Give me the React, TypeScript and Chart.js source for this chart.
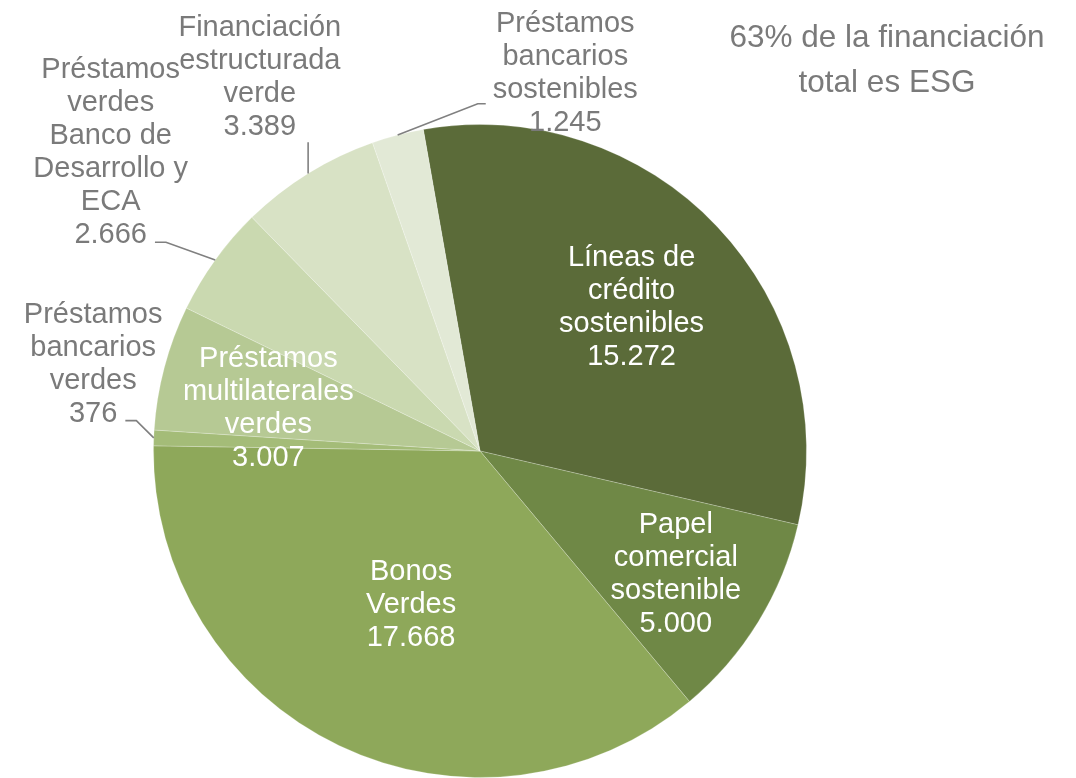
import React, { useEffect, useRef } from "react";
import { Chart, registerables } from "chart.js";

Chart.register(...registerables);

const categories: string[][] = [
  ["Líneas de", "crédito", "sostenibles"],
  ["Papel", "comercial", "sostenible"],
  ["Bonos", "Verdes"],
  ["Préstamos", "bancarios", "verdes"],
  ["Préstamos", "multilaterales", "verdes"],
  ["Préstamos", "verdes", "Banco de", "Desarrollo y", "ECA"],
  ["Financiación", "estructurada", "verde"],
  ["Préstamos", "bancarios", "sostenibles"],
];

const values: number[] = [15272, 5000, 17668, 376, 3007, 2666, 3389, 1245];

const colors: string[] = [
  "#5b6b39",
  "#6f8846",
  "#8ea85a",
  "#a4bc78",
  "#b6c994",
  "#cad9b0",
  "#d8e2c5",
  "#e2e9d6",
];

const titleLines: string[] = ["63% de la financiación", "total es ESG"];

// label placement: radius factor (of outer radius), angle offset (deg, clockwise), inside/outside, leader style
type Placement = {
  r: number;
  dAng: number;
  inside: boolean;
  leader?: "right" | "left" | "bottom";
  line?: number;
  dy?: number;
};
const placements: Placement[] = [
  { r: 0.645, dAng: -0.5, inside: true },
  { r: 0.704, dAng: 0, inside: true },
  { r: 0.507, dAng: -0.9, inside: true },
  { r: 1.215, dAng: 10.5, inside: false, leader: "right", line: 3, dy: 7 },
  { r: 0.663, dAng: -2.7, inside: true },
  { r: 1.456, dAng: 3.2, inside: false, leader: "right", line: 5, dy: 7 },
  { r: 1.33, dAng: 1.3, inside: false, leader: "bottom" },
  { r: 1.189, dAng: 27.3, inside: false, leader: "left", line: 2, dy: 14 },
];

const FONT = '"Liberation Sans", Arial, sans-serif';
const LABEL_SIZE = 29;
const LINE_H = 33;
const TEXT_SHIFT = 3;
const GRAY = "#7a7a7a";

function fmt(v: number): string {
  return v.toString().replace(/\B(?=(\d{3})+(?!\d))/g, ".");
}

const labelPlugin = {
  id: "pieLabels",
  afterDraw(chart: any) {
    const ctx: CanvasRenderingContext2D = chart.ctx;
    const meta = chart.getDatasetMeta(0);
    ctx.save();
    ctx.font = `${LABEL_SIZE}px ${FONT}`;
    ctx.textAlign = "center";
    ctx.textBaseline = "middle";
    meta.data.forEach((arc: any, i: number) => {
      const p = arc.getProps(["x", "y", "startAngle", "endAngle", "outerRadius"], true);
      const R = p.outerRadius;
      const mid = (p.startAngle + p.endAngle) / 2;
      const pl = placements[i];
      const ang = mid + (pl.dAng * Math.PI) / 180;
      const cx = p.x + Math.cos(ang) * R * pl.r;
      const cy = p.y + Math.sin(ang) * R * pl.r + (pl.inside ? TEXT_SHIFT : 1);
      const lines = [...categories[i], fmt(values[i])];
      const n = lines.length;
      const lineY = (k: number) => cy + (k - (n - 1) / 2) * LINE_H;
      ctx.fillStyle = pl.inside ? "#ffffff" : GRAY;
      lines.forEach((t, k) => ctx.fillText(t, cx, lineY(k)));
      if (!pl.inside && pl.leader) {
        const px = p.x + Math.cos(mid) * R;
        const py = p.y + Math.sin(mid) * R;
        ctx.strokeStyle = "#808080";
        ctx.lineWidth = 1.6;
        ctx.beginPath();
        if (pl.leader === "right" || pl.leader === "left") {
          const k = pl.line ?? n - 1;
          const w = ctx.measureText(lines[k]).width;
          const y = lineY(k) + (pl.dy ?? 0);
          if (pl.leader === "right") {
            const x0 = cx + w / 2 + 8;
            ctx.moveTo(x0, y);
            ctx.lineTo(x0 + 11, y);
          } else {
            const x0 = cx - w / 2 - 7;
            ctx.moveTo(x0, y);
            ctx.lineTo(x0 - 8, y);
          }
          ctx.lineTo(px, py);
        } else {
          let maxW = 0;
          lines.forEach((t) => (maxW = Math.max(maxW, ctx.measureText(t).width)));
          const x0 = Math.min(Math.max(px, cx - maxW / 2), cx + maxW / 2);
          const y0 = lineY(n - 1) + 15;
          ctx.moveTo(x0, y0);
          ctx.lineTo(px, py);
        }
        ctx.stroke();
      }
    });
    // side note
    ctx.font = `31.5px ${FONT}`;
    ctx.fillStyle = GRAY;
    ctx.textAlign = "center";
    ctx.textBaseline = "alphabetic";
    titleLines.forEach((t, k) => ctx.fillText(t, 887, 47 + k * 45));
    ctx.restore();
  },
};

export default function App() {
  const ref = useRef<HTMLCanvasElement | null>(null);
  useEffect(() => {
    if (!ref.current) return;
    const chart = new Chart(ref.current, {
      type: "pie",
      data: {
        labels: categories.map((c) => c.join(" ")),
        datasets: [
          {
            data: values,
            backgroundColor: colors,
            borderColor: "rgba(255,255,255,0.22)",
            borderWidth: 1,
          },
        ],
      },
      options: {
        responsive: false,
        animation: false,
        rotation: -10,
        layout: { padding: { top: 124, left: 153, right: 269, bottom: 0 } },
        plugins: {
          legend: { display: false },
          tooltip: { enabled: false },
          title: { display: false },
        },
      },
      plugins: [labelPlugin],
    });
    return () => chart.destroy();
  }, []);
  return (
    <div style={{ position: "absolute", left: 0, top: 0, width: 1076, height: 778, background: "#fff" }}>
      <canvas ref={ref} width={1076} height={778} style={{ display: "block" }} />
    </div>
  );
}
